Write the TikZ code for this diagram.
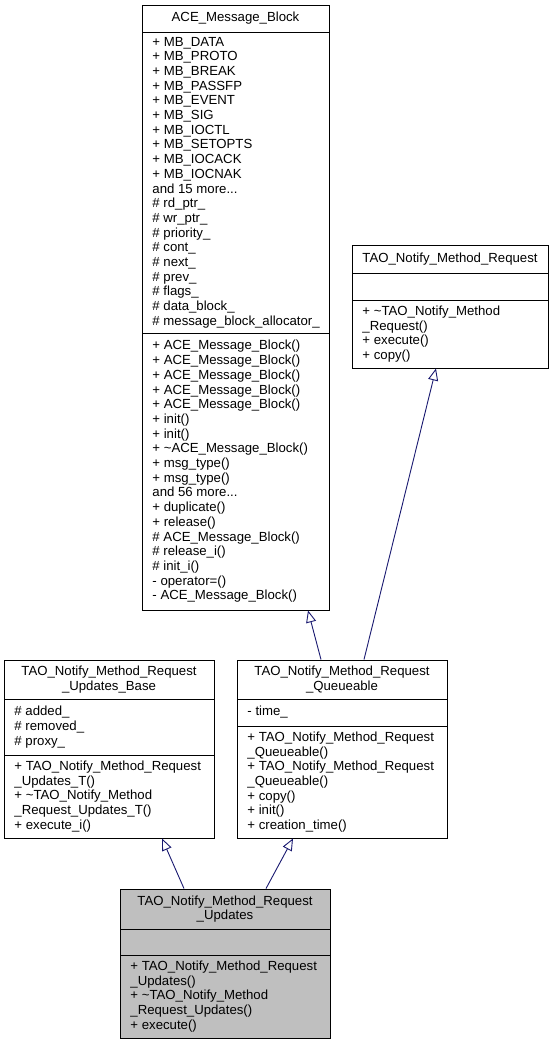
\documentclass[tikz,border=0pt]{standalone}
\usepackage{fontspec}
\setmainfont{Liberation Sans}
\usetikzlibrary{arrows.meta}
\definecolor{edgeblue}{HTML}{191970}
\definecolor{classgray}{HTML}{BFBFBF}

\begin{document}
\begin{tikzpicture}[x=1pt, y=-1pt, line width=0.9pt,
    classbox/.style={rectangle, draw=black, fill=white, inner sep=0pt},
    classtitle/.style={align=center, inner sep=0pt, font=\fontsize{13.2}{14.7}\selectfont},
    member/.style={align=left, anchor=west, inner sep=0pt, font=\fontsize{13.2}{14.7}\selectfont},
    inherit/.style={draw=edgeblue, -{Triangle[open, length=12pt, width=10pt]}}]
            \useasboundingbox (0,0) rectangle (555,1045);

            \node[classbox, minimum width=187pt, minimum height=605pt] (ace) at (235.5,307.5) {};
            \node[classbox, minimum width=196pt, minimum height=123pt] (req) at (450,306.5) {};
            \node[classbox, minimum width=210pt, minimum height=178pt] (base) at (109,749) {};
            \node[classbox, minimum width=210pt, minimum height=178pt] (queue) at (342,749) {};
            \node[classbox, fill=classgray, minimum width=210pt, minimum height=149pt] (upd) at (225,963.5) {};

            \draw (142,32) -- (329,32);
            \draw (142,333) -- (329,333);
            \draw (352,273) -- (548,273);
            \draw (352,300) -- (548,300);
            \draw (4,699) -- (214,699);
            \draw (4,755) -- (214,755);
            \draw (237,699) -- (447,699);
            \draw (237,726) -- (447,726);
            \draw (120,929) -- (330,929);
            \draw (120,955) -- (330,955);

            \node[classtitle] (ace-name) at (235.5,18.5) {ACE\_Message\_Block};
            \node[member] (ace-attr) at (152,182.5) {+ MB\_DATA\\+ MB\_PROTO\\+ MB\_BREAK\\+ MB\_PASSFP\\+ MB\_EVENT\\+ MB\_SIG\\+ MB\_IOCTL\\+ MB\_SETOPTS\\+ MB\_IOCACK\\+ MB\_IOCNAK\\and 15 more...\\\# rd\_ptr\_\\\# wr\_ptr\_\\\# priority\_\\\# cont\_\\\# next\_\\\# prev\_\\\# flags\_\\\# data\_block\_\\\# message\_block\_allocator\_};
            \node[member] (ace-ops) at (152,471.5) {+ ACE\_Message\_Block()\\+ ACE\_Message\_Block()\\+ ACE\_Message\_Block()\\+ ACE\_Message\_Block()\\+ ACE\_Message\_Block()\\+ init()\\+ init()\\+ \textasciitilde ACE\_Message\_Block()\\+ msg\_type()\\+ msg\_type()\\and 56 more...\\+ duplicate()\\+ release()\\\# ACE\_Message\_Block()\\\# release\_i()\\\# init\_i()\\- operator=()\\- ACE\_Message\_Block()};

            \node[classtitle] (req-name) at (450,259) {TAO\_Notify\_Method\_Request};
            \node[member] (req-ops) at (362,334) {+ \textasciitilde TAO\_Notify\_Method\\\_Request()\\+ execute()\\+ copy()};

            \node[classtitle] (base-name) at (109,679.5) {TAO\_Notify\_Method\_Request\\\_Updates\_Base};
            \node[member] (base-attr) at (14,727) {\# added\_\\\# removed\_\\\# proxy\_};
            \node[member] (base-ops) at (14,796.5) {+ TAO\_Notify\_Method\_Request\\\_Updates\_T()\\+ \textasciitilde TAO\_Notify\_Method\\\_Request\_Updates\_T()\\+ execute\_i()};

            \node[classtitle] (queue-name) at (342,679.5) {TAO\_Notify\_Method\_Request\\\_Queueable};
            \node[member] (queue-attr) at (247,712.5) {- time\_};
            \node[member] (queue-ops) at (247,782) {+ TAO\_Notify\_Method\_Request\\\_Queueable()\\+ TAO\_Notify\_Method\_Request\\\_Queueable()\\+ copy()\\+ init()\\+ creation\_time()};

            \node[classtitle] (upd-name) at (225,909) {TAO\_Notify\_Method\_Request\\\_Updates};
            \node[member] (upd-ops) at (130,996.5) {+ TAO\_Notify\_Method\_Request\\\_Updates()\\+ \textasciitilde TAO\_Notify\_Method\\\_Request\_Updates()\\+ execute()};

            \draw[inherit] ([xshift=-21pt]queue.north) -- ([xshift=72.5pt]ace.south);
            \draw[inherit] ([xshift=22pt]queue.north) -- ([xshift=-14pt]req.south);
            \draw[inherit] ([xshift=-41pt]upd.north) -- ([xshift=53pt]base.south);
            \draw[inherit] ([xshift=41pt]upd.north) -- ([xshift=-49pt]queue.south);
        \end{tikzpicture}
\end{document}
